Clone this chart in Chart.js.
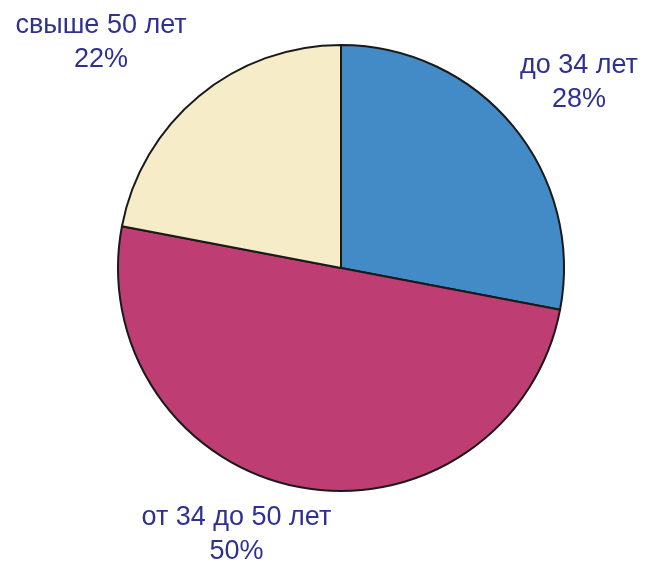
<!DOCTYPE html>
<html>
<head>
<meta charset="utf-8">
<script src="https://cdn.jsdelivr.net/npm/chart.js@4.4.1/dist/chart.umd.min.js"></script>
<style>
  html, body { margin: 0; padding: 0; background: #fff; }
  #wrap { width: 653px; height: 566px; }
</style>
</head>
<body>
<div id="wrap"><canvas id="pieChart" width="653" height="566"></canvas></div>
<script>
// возрастные группы
const categories = ['до 34 лет', 'от 34 до 50 лет', 'свыше 50 лет'];
const shares = [28, 50, 22];
const sliceColors = ['#428bc6', '#be3e73', '#f6ecc8'];

// положение подписей относительно центра (в радиусах)
const labelOffsets = [[1.067, -0.83], [-0.469, 1.196], [-1.076, -1.009]];

const outsideLabels = {
  id: 'outsideLabels',
  afterDraw(chart) {
    const ctx = chart.ctx;
    const meta = chart.getDatasetMeta(0);
    ctx.save();
    ctx.font = '27px "Liberation Sans", Arial, sans-serif';
    ctx.fillStyle = '#2e3192';
    ctx.textAlign = 'center';
    ctx.textBaseline = 'middle';
    meta.data.forEach((arc, i) => {
      const r = arc.outerRadius;
      const x = arc.x + labelOffsets[i][0] * r;
      const y = arc.y + labelOffsets[i][1] * r;
      ctx.fillText(categories[i], x, y - 17);
      ctx.fillText(shares[i] + '%', x, y + 17);
    });
    ctx.restore();
  }
};

const pieCtx = document.getElementById('pieChart').getContext('2d');
const pieChart = new Chart(pieCtx, {
  type: 'pie',
  data: {
    labels: categories,
    datasets: [{
      data: shares,
      backgroundColor: sliceColors,
      borderColor: '#1a1a1a',
      borderWidth: 2
    }]
  },
  options: {
    responsive: false,
    animation: false,
    layout: { padding: { left: 117, right: 88, top: 44, bottom: 74 } },
    plugins: {
      legend: { display: false },
      tooltip: { enabled: false }
    }
  },
  plugins: [outsideLabels]
});
</script>
</body>
</html>
